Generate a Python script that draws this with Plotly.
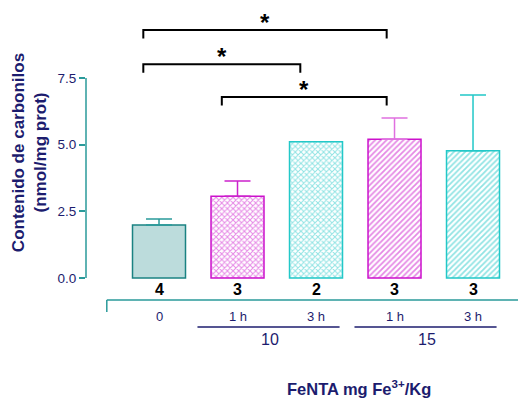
import plotly.graph_objects as go

categories = ["0", "1 h", "3 h", "1 h", "3 h"]
means = [1.99, 3.07, 5.11, 5.20, 4.77]
errors = [0.22, 0.57, 0.0, 0.80, 2.09]
n_labels = ["4", "3", "2", "3", "3"]
groups = [("10", 1, 2), ("15", 3, 4)]
brackets = [(-0.2, 2.9, 9.3), (-0.2, 1.8, 8.02), (0.8, 2.9, 6.79)]

line_colors = ["#1a8282", "#cc11cc", "#22c8c8", "#cc11cc", "#22c8c8"]
err_colors = ["#2a9a9a", "#cc22cc", "#22c8c8", "#e070e0", "#22c8c8"]
patterns = ["", "x", "x", "/", "/"]
fills = ["#bcdcdc", "white", "white", "white", "white"]

navy = "#1c1c6e"
teal = "#2a9a9a"
font = "Liberation Sans, Arial, sans-serif"

PLOT_BOTTOM = 300
PLOT_H = 295


def py(pixel):
    return (PLOT_BOTTOM - pixel) / PLOT_H


fig = go.Figure()
xs = list(range(len(categories)))
for i in xs:
    fig.add_trace(go.Bar(
        x=[i], y=[means[i]], width=0.675,
        marker=dict(
            color=fills[i],
            line=dict(color=line_colors[i], width=1.5),
            pattern=dict(shape=patterns[i], fgcolor=line_colors[i], bgcolor="white",
                         size=4, solidity=0.45, fillmode="overlay") if patterns[i] else None,
        ),
        error_y=dict(type="data", symmetric=False, array=[errors[i]], arrayminus=[0],
                     color=err_colors[i], thickness=1.5, width=13,
                     visible=errors[i] > 0),
        showlegend=False, hoverinfo="skip",
    ))

shapes = []
# y axis line from 0 to 7.5
shapes.append(dict(type="line", xref="paper", yref="y", x0=0, x1=0, y0=0, y1=7.5,
                   line=dict(color=teal, width=1.5)))
# x axis baseline (offset)
shapes.append(dict(type="line", xref="x", yref="paper", x0=-0.665, x1=4.6, y0=0, y1=0,
                   line=dict(color=teal, width=1.5)))
shapes.append(dict(type="line", xref="x", yref="paper", x0=-0.665, x1=-0.665, y0=0, y1=py(312),
                   line=dict(color=teal, width=1.5)))

annotations = []
for i in xs:
    annotations.append(dict(x=i, y=py(289), xref="x", yref="paper", text="<b>%s</b>" % n_labels[i],
                            showarrow=False, xanchor="center", yanchor="middle",
                            font=dict(family=font, size=16, color="black")))
    annotations.append(dict(x=i, y=py(316), xref="x", yref="paper", text=categories[i],
                            showarrow=False, xanchor="center", yanchor="middle",
                            font=dict(family=font, size=13, color=navy)))
for name, a, b in groups:
    shapes.append(dict(type="line", xref="x", yref="paper", x0=a - 0.51, x1=b + 0.3,
                       y0=py(327), y1=py(327), line=dict(color=navy, width=1.5)))
    annotations.append(dict(x=(a + b) / 2 - 0.08, y=py(339), xref="x", yref="paper", text=name,
                            showarrow=False, xanchor="center", yanchor="middle",
                            font=dict(family=font, size=16, color=navy)))

for x0, x1, y in brackets:
    shapes.append(dict(type="path", xref="x", yref="y",
                       path="M %f %f L %f %f L %f %f L %f %f" % (x0, y - 0.32, x0, y, x1, y, x1, y - 0.32),
                       line=dict(color="black", width=2)))
    annotations.append(dict(x=(x0 + x1) / 2, y=y - 0.3, xref="x", yref="y", text="<b>*</b>",
                            showarrow=False, xanchor="center", yanchor="bottom",
                            font=dict(family=font, size=24, color="black")))

annotations.append(dict(x=(359 - 86) / 432, y=py(388), xref="paper", yref="paper",
                        text="<b>FeNTA mg Fe<sup>3+</sup>/Kg</b>", showarrow=False,
                        xanchor="center", yanchor="middle",
                        font=dict(family=font, size=16.5, color=navy)))

fig.update_layout(
    width=518, height=399,
    margin=dict(l=86, r=0, t=5, b=99),
    plot_bgcolor="white", paper_bgcolor="white",
    barmode="overlay",
    xaxis=dict(range=[-0.93, 4.573], showticklabels=False, showgrid=False, zeroline=False,
               showline=False, ticks=""),
    yaxis=dict(range=[-0.825, 10.24], tickvals=[0, 2.5, 5, 7.5],
               ticktext=["0.0", "2.5", "5.0", "7.5"], ticks="outside", ticklen=6,
               tickcolor=teal, tickwidth=1.5, showgrid=False, zeroline=False, showline=False,
               tickfont=dict(family=font, size=13.5, color=navy),
               title=dict(text="<b>Contenido de carbonilos<br>(nmol/mg prot)</b>",
                          font=dict(family=font, size=17, color=navy), standoff=6)),
    shapes=shapes, annotations=annotations,
)

fig.write_html("out.html")
